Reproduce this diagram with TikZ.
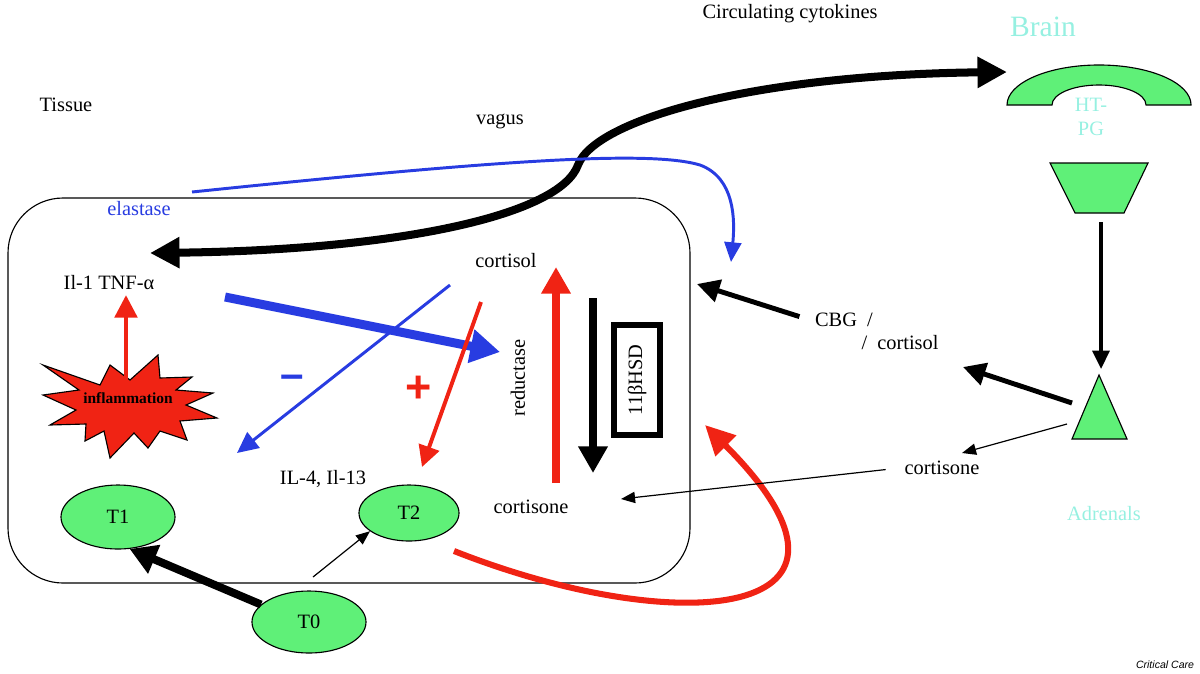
\documentclass[tikz,border=0pt]{standalone}
\usepackage{fontspec}
\setmainfont{Liberation Serif}
\setsansfont{Liberation Sans}
\usetikzlibrary{
    arrows.meta,
    shapes.geometric
}
\definecolor{cellgreen}{RGB}{95,240,120}
\definecolor{bluearrow}{RGB}{40,60,225}
\definecolor{redarrow}{RGB}{240,35,20}
\definecolor{cyantext}{RGB}{150,240,225}
\tikzset{
    txt/.style={font=\fontsize{14.5}{17}\selectfont},
    cell/.style={ellipse, draw, line width=0.8pt, fill=cellgreen, inner sep=0pt, font=\fontsize{14.5}{17}\selectfont},
    organ/.style={draw, line width=0.8pt, fill=cellgreen},
    arrowhead/.style 2 args={-{Triangle[length=#1,width=#2]}}
}

\begin{document}
\begin{tikzpicture}[x=0.025cm, y=-0.025cm]
        \useasboundingbox (0,0) rectangle (1200,673);

        % tissue compartment
        \draw[line width=0.8pt, rounded corners=1.375cm] (8,198) rectangle (690,583);

        % texts
        \draw (66,105) node[txt](tissue){Tissue};
        \draw (500,121) node[txt](vagus){vagus};
        \draw (790,14) node[txt](cytokines){Circulating cytokines};
        \draw (1043,27) node[font=\fontsize{21}{24}\selectfont, text=cyantext](brain){Brain};
        \draw (1091,117) node[txt, text=cyantext, align=center](htpg){HT-\\PG};
        \draw (139,209) node[txt, text=bluearrow](elastase){elastase};
        \draw (109,283) node[txt](il1){Il-1 TNF-α};
        \draw (506,261) node[txt](cortisolin){cortisol};
        \draw (531,507) node[txt](cortisonein){cortisone};
        \draw (518,378) node[txt, rotate=90](reductase){reductase};
        \draw (323,479) node[txt](il4){IL-4, Il-13};
        \draw (844,320) node[txt](cbg){CBG \ /};
        \draw (900,343) node[txt](cortisolout){/ \ cortisol};
        \draw (942,468) node[txt](cortisoneout){cortisone};
        \draw (1104,514) node[txt, text=cyantext](adrenals){Adrenals};
        \draw (292,382) node[font=\fontsize{30}{30}\selectfont\bfseries\sffamily, text=bluearrow](minus){–};
        \draw (419,389) node[font=\fontsize{32}{32}\selectfont\bfseries\sffamily, text=redarrow](plus){+};
        \draw (1165,665) node[font=\fontsize{7.5}{9}\selectfont\sffamily\itshape](critical){Critical Care};

        % 11bHSD box
        \draw (637,380) node[draw, line width=4.2pt, minimum width=2.75cm, minimum height=1.15cm, txt, rotate=90](hsd){11βHSD};

        % inflammation
        \draw[fill=redarrow, line width=0.8pt] (43,365) -- (100,385) -- (110,365) -- (130,380) -- (158,355) -- (160,378)
            -- (192,377) -- (176,390) -- (213,393) -- (186,405) -- (217,418) -- (180,421) -- (187,440) -- (160,431)
            -- (148,448) -- (134,433) -- (110,458) -- (104,431) -- (85,441) -- (86,424) -- (50,425) -- (76,410)
            -- (43,395) -- (79,390) -- cycle;
        \draw (128,398) node[font=\fontsize{11}{13}\selectfont\bfseries](infl){inflammation};

        % cells
        \draw (118,517) node[cell, minimum width=2.85cm, minimum height=1.6cm](t1){T1};
        \draw (409,513) node[cell, minimum width=2.5cm, minimum height=1.4cm](t2){T2};
        \draw (309,622) node[cell, minimum width=2.85cm, minimum height=1.55cm](t0){T0};

        % brain, pituitary, adrenals
        \draw[organ] (1007,105) arc[start angle=180, end angle=0, x radius=2.3cm, y radius=1cm]
            -- (1146,105) arc[start angle=0, end angle=180, x radius=1.175cm, y radius=0.5cm] -- cycle;
        \draw[organ] (1050,163) -- (1148,163) -- (1124,213) -- (1075,213) -- cycle;
        \draw[organ] (1099,375) -- (1127,439) -- (1072,439) -- cycle;

        % free ends
        \coordinate (cyttissue) at (150,253);
        \coordinate (cytbend) at (578,165);
        \coordinate (cytbrain) at (1007,72);
        \coordinate (elastail) at (192,192);
        \coordinate (elasbend) at (700,165);
        \coordinate (elastip) at (731,262);
        \coordinate (infltop) at (126,382);
        \coordinate (bluetail) at (225,297);
        \coordinate (bluetip) at (500,352);
        \coordinate (minustail) at (450,285);
        \coordinate (minustip) at (237,453);
        \coordinate (plustail) at (481,302);
        \coordinate (plustip) at (422,467);
        \coordinate (redup) at (556,483);
        \coordinate (reduptip) at (556,267);
        \coordinate (blackdown) at (593,298);
        \coordinate (blackdowntip) at (593,473);
        \coordinate (t2tail) at (454,551);
        \coordinate (boxhit) at (705,425);
        \coordinate (cbgtip) at (697,284);
        \coordinate (pitbottom) at (1101,222);
        \coordinate (adrtop) at (1101,369);
        \coordinate (adrleft) at (1072,403);
        \coordinate (cortisoltip) at (963,367);
        \coordinate (adrlow) at (1067,424);
        \coordinate (cortisonetip) at (962,453);
        \coordinate (cortisoneintip) at (621,499);
        \coordinate (t0top) at (313,577);

        % connectors
        \draw[line width=5.7pt, {Triangle[length=21pt,width=21pt]}-{Triangle[length=21pt,width=21pt]}]
            (cyttissue) .. controls (400,250) and (560,215) .. (cytbend) .. controls (595,120) and (750,75) .. (cytbrain);
        \draw[line width=2.1pt, bluearrow, arrowhead={14pt}{12pt}]
            (elastail) .. controls (500,160) and (650,150) .. (elasbend) .. controls (735,178) and (735,220) .. (elastip);
        \draw[line width=2.8pt, redarrow, arrowhead={16pt}{16pt}] (infltop) -- (il1.south -| infltop);
        \draw[line width=6.4pt, bluearrow, arrowhead={21pt}{23pt}] (bluetail) -- (bluetip);
        \draw[line width=2.1pt, bluearrow, arrowhead={15pt}{14pt}] (minustail) -- (minustip);
        \draw[line width=2.8pt, redarrow, arrowhead={15pt}{15pt}] (plustail) -- (plustip);
        \draw[line width=5pt, redarrow, arrowhead={19pt}{20pt}] (redup) -- (reduptip);
        \draw[line width=5pt, arrowhead={19pt}{20pt}] (blackdown) -- (blackdowntip);
        \draw[line width=4.3pt, redarrow, arrowhead={21pt}{20pt}] (t2tail) .. controls (680,640) and (900,620) .. (boxhit);
        \draw[line width=3.5pt, arrowhead={16pt}{16pt}, shorten <=8pt] (cbg.west) -- (cbgtip);
        \draw[line width=2.5pt, arrowhead={13pt}{12pt}] (pitbottom) -- (adrtop);
        \draw[line width=3.5pt, arrowhead={16pt}{16pt}] (adrleft) -- (cortisoltip);
        \draw[line width=0.85pt, arrowhead={10pt}{8pt}] (adrlow) -- (cortisonetip);
        \draw[line width=0.85pt, arrowhead={10pt}{8pt}, shorten <=10pt] (cortisoneout.west) -- (cortisoneintip);
        \draw[line width=5.7pt, arrowhead={19pt}{21pt}] (t0.160) -- (t1.-70);
        \draw[line width=0.85pt, arrowhead={10pt}{8pt}] (t0top) -- (t2.205);
    \end{tikzpicture}
\end{document}
